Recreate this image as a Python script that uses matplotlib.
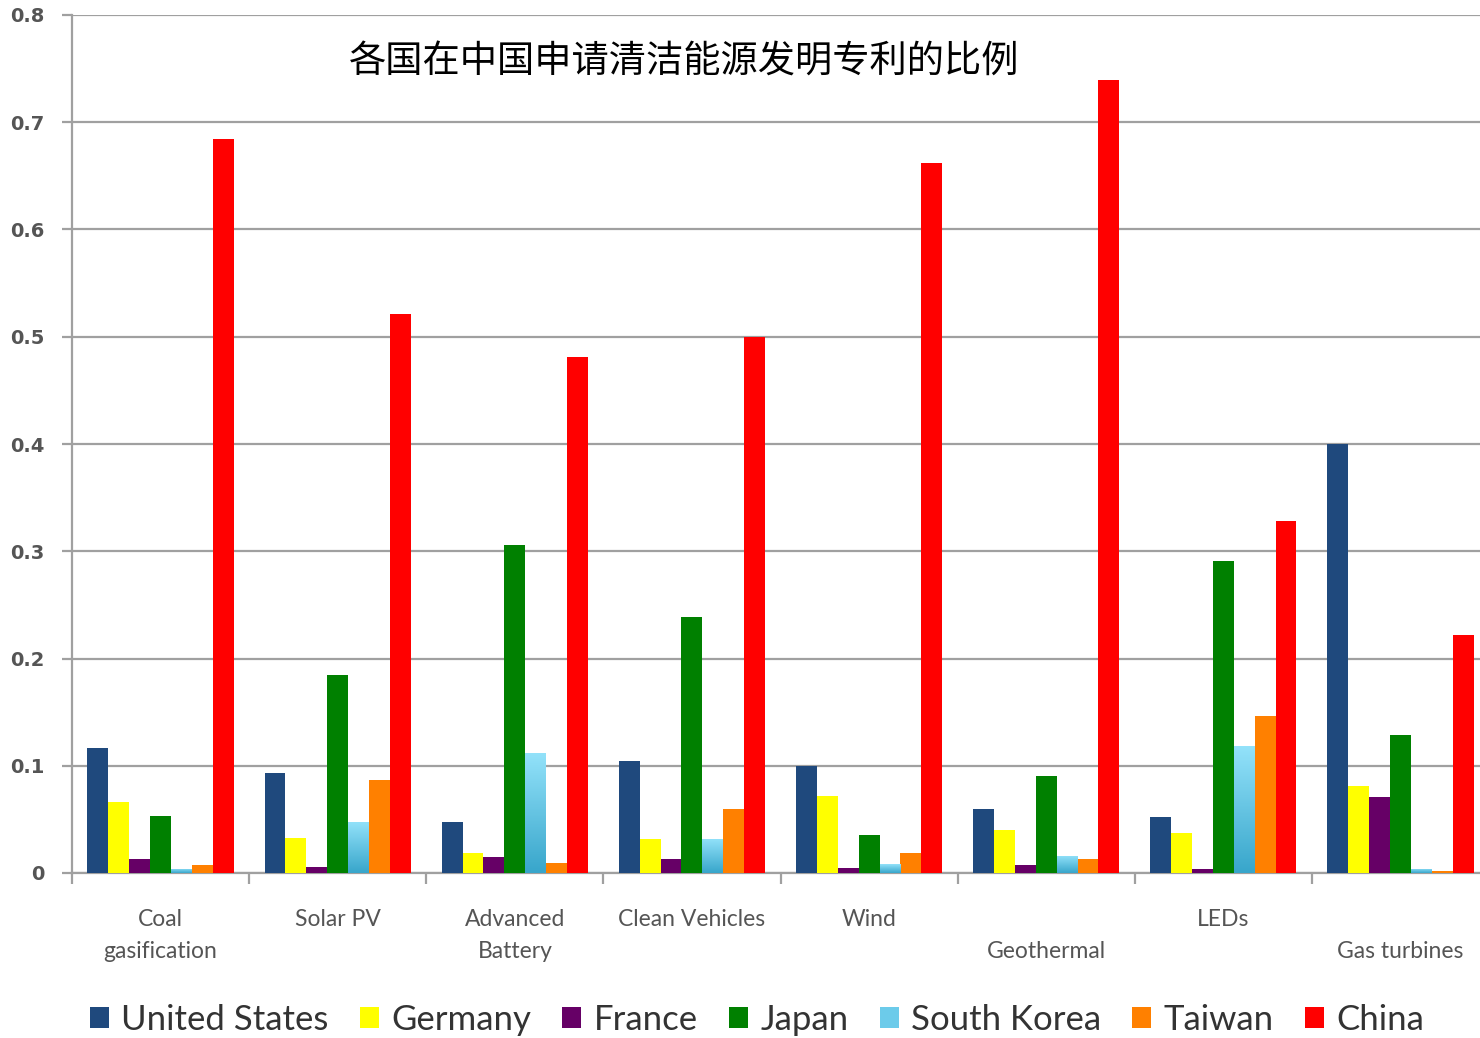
import numpy as np
import matplotlib
matplotlib.use('Agg')
import matplotlib.pyplot as plt
from matplotlib.patches import Patch

categories = ['Coal\ngasification', 'Solar PV', 'Advanced\nBattery', 'Clean Vehicles',
              'Wind', '\nGeothermal', 'LEDs', '\nGas turbines']
countries = ['United States', 'Germany', 'France', 'Japan', 'South Korea', 'Taiwan', 'China']

united_states = [0.117, 0.093, 0.048, 0.104, 0.100, 0.060, 0.052, 0.400]
germany       = [0.066, 0.033, 0.019, 0.032, 0.072, 0.040, 0.037, 0.081]
france        = [0.013, 0.006, 0.015, 0.013, 0.005, 0.007, 0.004, 0.071]
japan         = [0.053, 0.185, 0.306, 0.239, 0.035, 0.090, 0.291, 0.129]
south_korea   = [0.004, 0.048, 0.112, 0.032, 0.008, 0.016, 0.118, 0.004]
taiwan        = [0.007, 0.087, 0.009, 0.060, 0.019, 0.013, 0.146, 0.002]
china         = [0.684, 0.521, 0.481, 0.500, 0.662, 0.739, 0.328, 0.222]

series = [united_states, germany, france, japan, south_korea, taiwan, china]
colors = ['#1f497d', '#ffff00', '#660066', '#008000', '#6ccbea', '#ff8000', '#ff0000']

title = '各国在中国申请清洁能源发明专利的比例'

fig = plt.figure(figsize=(14.8, 10.38), dpi=100)
ax = fig.add_axes([72 / 1480, 165 / 1038, 1417 / 1480, 858 / 1038])

x = np.arange(len(categories))
width = 0.118
offsets = (np.arange(len(series)) - 3) * width

for i, (vals, c) in enumerate(zip(series, colors)):
    bars = ax.bar(x + offsets[i], vals, width, color=c, zorder=3, linewidth=0)
    if countries[i] == 'South Korea':
        # light blue bars fade darker toward the base
        grad = np.linspace(1, 0, 100).reshape(-1, 1)
        cmap = matplotlib.colors.LinearSegmentedColormap.from_list('sk', ['#38a6cb', '#93e2fa'])
        for b in bars:
            x0, y0 = b.get_x(), b.get_y()
            im = ax.imshow(grad, extent=[x0, x0 + b.get_width(), y0, y0 + b.get_height()],
                           cmap=cmap, aspect='auto', zorder=3.5, origin='upper')
            im.set_clip_path(b)

ax.set_xlim(-0.5, len(categories) - 0.5)
ax.set_ylim(0, 0.8)

ax.set_yticks(np.arange(0, 0.81, 0.1))
ax.set_yticklabels(['0', '0.1', '0.2', '0.3', '0.4', '0.5', '0.6', '0.7', '0.8'],
                   fontsize=14, color='#555555', fontweight='bold', family='DejaVu Sans')
ax.yaxis.grid(True, color='#a0a0a0', linewidth=1.6, zorder=0)
ax.tick_params(axis='y', length=7, width=1.6, color='#a0a0a0', pad=13)

ax.set_xticks(x)
ax.set_xticklabels(categories, fontsize=16.5, color='#555555', family='Lato', linespacing=1.65)
ax.set_xticks(np.arange(-0.5, len(categories)), minor=True)
ax.tick_params(axis='x', which='major', length=0, pad=26)
ax.tick_params(axis='x', which='minor', length=8, width=1.6, color='#a0a0a0')

for s in ['top', 'right']:
    ax.spines[s].set_visible(False)
ax.spines['left'].set_color('#a0a0a0')
ax.spines['left'].set_linewidth(1.6)
ax.spines['bottom'].set_color('#a0a0a0')
ax.spines['bottom'].set_linewidth(1.6)

fig.text(684 / 1480, 1 - 61 / 1038, title, ha='center', va='center', fontsize=26.8,
         family=['Noto Sans CJK SC', 'DejaVu Sans'], color='black')

handles = [Patch(facecolor=c, label=n) for c, n in zip(colors, countries)]
leg = fig.legend(handles=handles, loc='center', bbox_to_anchor=(757 / 1480, 1 - 1020 / 1038),
                 ncol=7, frameon=False, handlelength=0.55, handleheight=0.55,
                 handletextpad=0.35, columnspacing=0.9,
                 prop={'family': 'Lato', 'size': 25})
for t in leg.get_texts():
    t.set_color('#333333')

fig.savefig('out.png', dpi=100)
